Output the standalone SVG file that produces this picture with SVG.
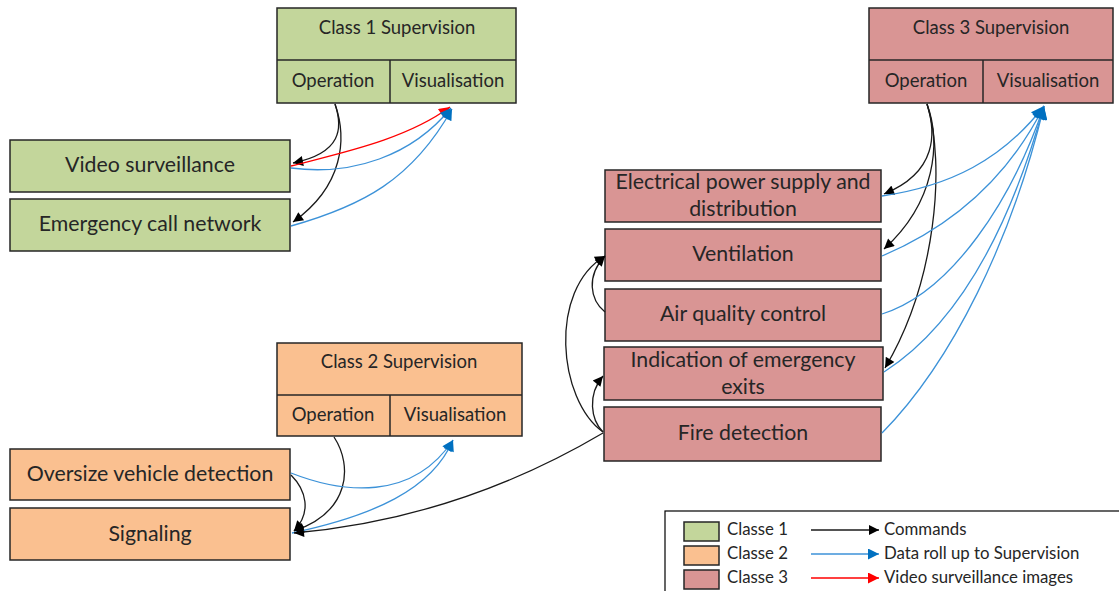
<svg xmlns="http://www.w3.org/2000/svg" width="1119" height="591" viewBox="0 0 1119 591">
  <defs>
    <style>
      .c1 { fill: #C3D69B; stroke: #262626; stroke-width: 1.5; }
      .c2 { fill: #FAC090; stroke: #262626; stroke-width: 1.5; }
      .c3 { fill: #D99594; stroke: #262626; stroke-width: 1.5; }
      .sep { stroke: #262626; stroke-width: 1.5; fill: none; }
      text { font-family: Lato, "Liberation Sans", sans-serif; fill: #262626; text-anchor: middle; }
      .hd { font-size: 18.5px; }
      .lb { font-size: 21.3px; }
      .lg { font-size: 16.8px; text-anchor: start; }
      .cmd { fill: none; stroke: #1a1a1a; stroke-width: 1.3; marker-end: url(#aBlack); }
      .data { fill: none; stroke: #3C92D8; stroke-width: 1.3; marker-end: url(#aBlue); }
      .video { fill: none; stroke: #FF0000; stroke-width: 1.3; marker-end: url(#aRed); }
      .big { marker-end: url(#aBlueBig); }
    </style>
    <marker id="aBlack" viewBox="0 0 10 10" refX="10" refY="5" markerWidth="12" markerHeight="10" markerUnits="userSpaceOnUse" orient="auto">
      <path d="M0,0 L10,5 L0,10 Z" fill="#000"/>
    </marker>
    <marker id="aBlue" viewBox="0 0 10 10" refX="10" refY="5" markerWidth="13" markerHeight="11" markerUnits="userSpaceOnUse" orient="auto">
      <path d="M0,0 L10,5 L0,10 Z" fill="#0070C0"/>
    </marker>
    <marker id="aBlueBig" viewBox="0 0 10 10" refX="10" refY="5" markerWidth="15" markerHeight="13" markerUnits="userSpaceOnUse" orient="auto">
      <path d="M0,0 L10,5 L0,10 Z" fill="#0070C0"/>
    </marker>
    <marker id="aRed" viewBox="0 0 10 10" refX="10" refY="5" markerWidth="13" markerHeight="11" markerUnits="userSpaceOnUse" orient="auto">
      <path d="M0,0 L10,5 L0,10 Z" fill="#FF0000"/>
    </marker>
  </defs>

  <rect width="1119" height="591" fill="#FFFFFF"/>

  <!-- Class 1 -->
  <g id="class1-supervision">
    <rect class="c1" x="277" y="8" width="239" height="95"/>
    <line class="sep" x1="277" y1="60" x2="516" y2="60"/>
    <line class="sep" x1="390" y1="60" x2="390" y2="103"/>
    <text class="hd" x="397" y="34">Class 1 Supervision</text>
    <text class="hd" x="333" y="87">Operation</text>
    <text class="hd" x="453" y="87">Visualisation</text>
  </g>
  <g id="video-surveillance">
    <rect class="c1" x="10" y="140" width="280" height="52"/>
    <text class="lb" x="150" y="172">Video surveillance</text>
  </g>
  <g id="emergency-call-network">
    <rect class="c1" x="10" y="199" width="280" height="52"/>
    <text class="lb" x="150" y="231">Emergency call network</text>
  </g>

  <!-- Class 3 -->
  <g id="class3-supervision">
    <rect class="c3" x="869" y="8" width="244" height="95"/>
    <line class="sep" x1="869" y1="60" x2="1113" y2="60"/>
    <line class="sep" x1="983" y1="60" x2="983" y2="103"/>
    <text class="hd" x="991" y="34">Class 3 Supervision</text>
    <text class="hd" x="926" y="87">Operation</text>
    <text class="hd" x="1048" y="87">Visualisation</text>
  </g>
  <g id="electrical-power">
    <rect class="c3" x="605" y="170" width="276" height="52"/>
    <text class="lb" x="743" y="189">Electrical power supply and</text>
    <text class="lb" x="743" y="216">distribution</text>
  </g>
  <g id="ventilation">
    <rect class="c3" x="605" y="229" width="276" height="52"/>
    <text class="lb" x="743" y="261">Ventilation</text>
  </g>
  <g id="air-quality-control">
    <rect class="c3" x="605" y="289" width="276" height="52"/>
    <text class="lb" x="743" y="321">Air quality control</text>
  </g>
  <g id="emergency-exits">
    <rect class="c3" x="604" y="347" width="279" height="53"/>
    <text class="lb" x="743" y="367">Indication of emergency</text>
    <text class="lb" x="743" y="394">exits</text>
  </g>
  <g id="fire-detection">
    <rect class="c3" x="604" y="407" width="277" height="54"/>
    <text class="lb" x="743" y="440">Fire detection</text>
  </g>

  <!-- Class 2 -->
  <g id="class2-supervision">
    <rect class="c2" x="277" y="343" width="245" height="93"/>
    <line class="sep" x1="277" y1="395" x2="522" y2="395"/>
    <line class="sep" x1="390" y1="395" x2="390" y2="436"/>
    <text class="hd" x="399" y="368">Class 2 Supervision</text>
    <text class="hd" x="333" y="421">Operation</text>
    <text class="hd" x="455" y="421">Visualisation</text>
  </g>
  <g id="oversize-vehicle-detection">
    <rect class="c2" x="10" y="449" width="280" height="51"/>
    <text class="lb" x="150" y="481">Oversize vehicle detection</text>
  </g>
  <g id="signaling">
    <rect class="c2" x="10" y="508" width="280" height="52"/>
    <text class="lb" x="150" y="541">Signaling</text>
  </g>

  <!-- Connectors -->
  <g id="connectors">
    <!-- class 1 -->
    <path class="cmd" d="M335,104 C343,128 342,153 293,163"/>
    <path class="cmd" d="M335,104 C347,138 344,186 293,222"/>
    <path class="video" d="M291,166 C340,153 405,140 450,107"/>
    <path class="data" d="M291,168 C352,176 412,156 451,108"/>
    <path class="data" d="M291,226 C362,206 412,180 452,109"/>

    <!-- class 3 commands -->
    <path class="cmd" d="M927,104 C936,132 938,172 884,194"/>
    <path class="cmd" d="M927,104 C941,142 936,202 884,249"/>
    <path class="cmd" d="M927,104 C946,165 936,282 885,368"/>

    <!-- class 3 data -->
    <path class="data big" d="M882,196 C950,186 1002,160 1044,106"/>
    <path class="data big" d="M882,256 C962,222 1012,170 1044,106"/>
    <path class="data big" d="M882,314 C952,292 1012,200 1044,106"/>
    <path class="data big" d="M884,372 C962,322 1012,220 1044,106"/>
    <path class="data big" d="M882,433 C952,362 1012,240 1044,106"/>

    <!-- class 3 internal commands -->
    <path class="cmd" d="M605,312 C590,300 586,276 605,256"/>
    <path class="cmd" d="M603,432 C558,400 548,290 605,256"/>
    <path class="cmd" d="M603,432 C591,420 587,395 603,376"/>

    <!-- class 2 -->
    <path class="cmd" d="M334,437 C353,466 350,512 294,531"/>
    <path class="cmd" d="M291,475 C306,490 312,512 294,531"/>
    <path class="data" d="M291,473 C342,493 412,502 453,440"/>
    <path class="data" d="M292,533 C372,516 432,490 453,440"/>
    <path class="cmd" d="M603,433 C520,482 420,522 294,533"/>
  </g>

  <!-- Legend -->
  <g id="legend">
    <rect x="665" y="511" width="470" height="90" fill="#FFFFFF" stroke="#000" stroke-width="1.2"/>
    <rect class="c1" x="684" y="522" width="35" height="19"/>
    <rect class="c2" x="684" y="546" width="35" height="19"/>
    <rect class="c3" x="684" y="570" width="35" height="19"/>
    <text class="lg" x="727" y="535">Classe 1</text>
    <text class="lg" x="727" y="559">Classe 2</text>
    <text class="lg" x="727" y="583">Classe 3</text>
    <line x1="811" y1="530" x2="879" y2="530" class="cmd"/>
    <line x1="811" y1="554" x2="879" y2="554" class="data"/>
    <line x1="811" y1="578" x2="879" y2="578" class="video"/>
    <text class="lg" x="884" y="535">Commands</text>
    <text class="lg" x="884" y="559">Data roll up to Supervision</text>
    <text class="lg" x="884" y="583">Video surveillance images</text>
  </g>
</svg>
